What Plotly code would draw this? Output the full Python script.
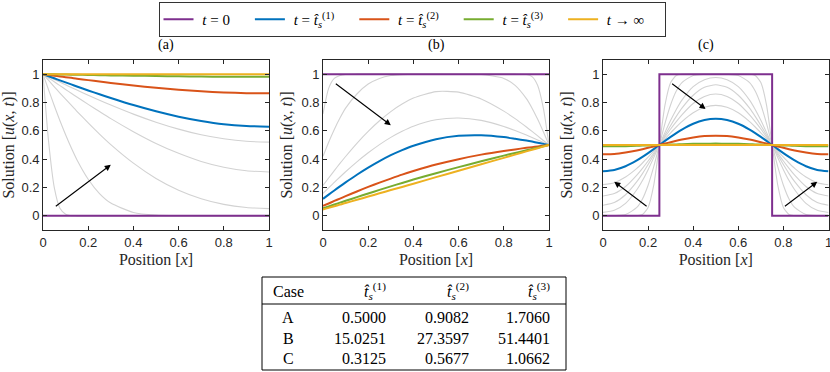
import plotly.graph_objects as go

# ---------------- data ----------------
# Panel (a)
xa = [0, 0.025, 0.05, 0.075, 0.1, 0.125, 0.15, 0.2, 0.25, 0.3, 0.4, 0.5, 0.6, 0.7, 0.8, 0.9, 1.0]
a_grey1 = [1, 0.521, 0.199, 0.053, 0.011, 0.001, 0, 0, 0, 0, 0, 0, 0, 0, 0, 0, 0]
a_grey2 = [1, 0.888, 0.777, 0.671, 0.572, 0.480, 0.396, 0.258, 0.157, 0.090, 0.024, 0.005, 0.001, 0, 0, 0, 0]
a_grey3 = [1, 0.956, 0.911, 0.867, 0.824, 0.781, 0.738, 0.656, 0.577, 0.503, 0.372, 0.264, 0.181, 0.121, 0.081, 0.059, 0.051]
a_grey4 = [1, 0.973, 0.946, 0.919, 0.892, 0.865, 0.839, 0.787, 0.736, 0.686, 0.594, 0.511, 0.441, 0.384, 0.343, 0.318, 0.309]
a_grey5 = [1, 0.981, 0.962, 0.944, 0.925, 0.906, 0.888, 0.852, 0.816, 0.782, 0.718, 0.661, 0.612, 0.572, 0.544, 0.526, 0.520]
a_t0 = [0, 0, 0, 0, 0, 0, 0, 0, 0, 0, 0, 0, 0, 0, 0, 0, 0]
a_t1 = [1, 0.985, 0.971, 0.956, 0.942, 0.928, 0.913, 0.885, 0.858, 0.832, 0.782, 0.738, 0.700, 0.670, 0.647, 0.634, 0.629]
a_t2 = [1, 0.995, 0.989, 0.984, 0.979, 0.974, 0.968, 0.958, 0.948, 0.938, 0.920, 0.904, 0.890, 0.879, 0.871, 0.866, 0.865]
a_t3 = [1, 0.999, 0.999, 0.998, 0.997, 0.996, 0.996, 0.994, 0.993, 0.991, 0.989, 0.987, 0.985, 0.983, 0.982, 0.981, 0.981]
a_inf = [1, 1, 1, 1, 1, 1, 1, 1, 1, 1, 1, 1, 1, 1, 1, 1, 1]

# Panel (b)
xb = [0, 0.025, 0.05, 0.075, 0.1, 0.15, 0.2, 0.25, 0.3, 0.35, 0.4, 0.5, 0.6, 0.7, 0.8, 0.85, 0.9, 0.925, 0.95, 0.975, 1.0]
b_grey1 = [0.72, 0.90, 0.97, 0.99, 0.998, 1, 1, 1, 1, 1, 1, 1, 1, 1, 1, 1, 0.998, 0.983, 0.92, 0.76, 0.5]
b_grey2 = [0.42, 0.52, 0.61, 0.69, 0.76, 0.86, 0.93, 0.97, 0.99, 0.997, 1, 1, 0.999, 0.998, 0.97, 0.921, 0.827, 0.76, 0.681, 0.593, 0.5]
b_grey3 = [0.214, 0.267, 0.319, 0.370, 0.419, 0.512, 0.596, 0.671, 0.736, 0.789, 0.831, 0.877, 0.873, 0.825, 0.739, 0.686, 0.627, 0.596, 0.564, 0.532, 0.5]
b_grey4 = [0.158, 0.198, 0.236, 0.274, 0.311, 0.381, 0.445, 0.503, 0.554, 0.597, 0.633, 0.678, 0.691, 0.674, 0.631, 0.602, 0.570, 0.553, 0.536, 0.518, 0.5]
b_t0 = [1, 1, 1, 1, 1, 1, 1, 1, 1, 1, 1, 1, 1, 1, 1, 1, 1, 1, 1, 1, 1]
b_t1 = [0.120, 0.150, 0.179, 0.208, 0.236, 0.290, 0.340, 0.386, 0.428, 0.464, 0.495, 0.541, 0.565, 0.569, 0.556, 0.544, 0.531, 0.524, 0.516, 0.508, 0.5]
b_t2 = [0.070, 0.087, 0.105, 0.122, 0.139, 0.172, 0.204, 0.234, 0.263, 0.291, 0.316, 0.362, 0.400, 0.432, 0.458, 0.469, 0.480, 0.485, 0.490, 0.495, 0.5]
b_t3 = [0.053, 0.066, 0.080, 0.093, 0.106, 0.132, 0.158, 0.183, 0.208, 0.232, 0.256, 0.301, 0.344, 0.385, 0.425, 0.444, 0.463, 0.472, 0.481, 0.491, 0.5]
b_inf = [0.045, 0.056, 0.068, 0.079, 0.091, 0.113, 0.136, 0.159, 0.182, 0.204, 0.227, 0.273, 0.318, 0.364, 0.409, 0.432, 0.455, 0.466, 0.477, 0.489, 0.5]

# Panel (c)
xc = [0, 0.05, 0.1, 0.15, 0.175, 0.2, 0.225, 0.25, 0.275, 0.3, 0.325, 0.35, 0.4, 0.45, 0.5,
      0.55, 0.6, 0.65, 0.675, 0.7, 0.725, 0.75, 0.775, 0.8, 0.825, 0.85, 0.9, 0.95, 1.0]
c_grey1 = [0, 0, 0, 0.001, 0.009, 0.059, 0.216, 0.5, 0.784, 0.941, 0.991, 0.999, 1, 1, 1,
           1, 1, 0.999, 0.991, 0.941, 0.784, 0.5, 0.216, 0.059, 0.009, 0.001, 0, 0, 0]
c_grey2 = [0, 0.001, 0.009, 0.059, 0.119, 0.216, 0.347, 0.5, 0.653, 0.784, 0.881, 0.941, 0.991, 0.999, 1,
           0.999, 0.991, 0.941, 0.881, 0.784, 0.653, 0.5, 0.347, 0.216, 0.119, 0.059, 0.009, 0.001, 0]
c_grey3 = [0.024, 0.039, 0.088, 0.184, 0.249, 0.326, 0.411, 0.5, 0.589, 0.674, 0.751, 0.817, 0.912, 0.961, 0.976,
           0.961, 0.912, 0.817, 0.751, 0.674, 0.589, 0.5, 0.411, 0.326, 0.249, 0.184, 0.088, 0.039, 0.024]
c_grey4 = [0.075, 0.094, 0.149, 0.241, 0.298, 0.362, 0.430, 0.5, 0.570, 0.638, 0.702, 0.760, 0.851, 0.907, 0.925,
           0.907, 0.851, 0.760, 0.702, 0.638, 0.570, 0.5, 0.430, 0.362, 0.298, 0.241, 0.149, 0.094, 0.075]
c_grey5 = [0.140, 0.157, 0.207, 0.287, 0.335, 0.387, 0.443, 0.5, 0.557, 0.613, 0.665, 0.713, 0.793, 0.843, 0.860,
           0.843, 0.793, 0.713, 0.665, 0.613, 0.557, 0.5, 0.443, 0.387, 0.335, 0.287, 0.207, 0.157, 0.140]
c_grey6 = [0.220, 0.234, 0.274, 0.335, 0.373, 0.414, 0.456, 0.5, 0.544, 0.586, 0.627, 0.665, 0.727, 0.766, 0.780,
           0.766, 0.727, 0.665, 0.627, 0.586, 0.544, 0.5, 0.456, 0.414, 0.373, 0.335, 0.274, 0.234, 0.220]
c_t0_x = [0, 0.25, 0.25, 0.75, 0.75, 1.0]
c_t0_y = [0, 0, 1, 1, 0, 0]
c_t1 = [0.315, 0.324, 0.350, 0.391, 0.416, 0.443, 0.471, 0.5, 0.529, 0.557, 0.584, 0.609, 0.650, 0.676, 0.685,
        0.676, 0.650, 0.609, 0.584, 0.557, 0.529, 0.5, 0.471, 0.443, 0.416, 0.391, 0.350, 0.324, 0.315]
c_t2 = [0.434, 0.437, 0.447, 0.461, 0.470, 0.480, 0.490, 0.5, 0.510, 0.520, 0.530, 0.539, 0.553, 0.563, 0.566,
        0.563, 0.553, 0.539, 0.530, 0.520, 0.510, 0.5, 0.490, 0.480, 0.470, 0.461, 0.447, 0.437, 0.434]
c_t3 = [0.491, 0.491, 0.492, 0.494, 0.496, 0.497, 0.499, 0.5, 0.501, 0.503, 0.504, 0.506, 0.508, 0.509, 0.510,
        0.509, 0.508, 0.506, 0.504, 0.503, 0.501, 0.5, 0.499, 0.497, 0.496, 0.494, 0.492, 0.491, 0.491]
c_inf = [0.5, 0.5, 0.5, 0.5, 0.5, 0.5, 0.5, 0.5, 0.5, 0.5, 0.5, 0.5, 0.5, 0.5, 0.5,
         0.5, 0.5, 0.5, 0.5, 0.5, 0.5, 0.5, 0.5, 0.5, 0.5, 0.5, 0.5, 0.5, 0.5]

# arrows (data coordinates: tail x, tail y, head x, head y)
arrows_a = [(0.05, 0.06, 0.30, 0.36)]
arrows_b = [(0.05, 0.94, 0.30, 0.64)]
arrows_c = [(0.30, 0.94, 0.455, 0.755), (0.20, 0.06, 0.05, 0.24), (0.80, 0.06, 0.95, 0.24)]

# table
TS = ["<i>t\u0302</i><sub><i>s</i></sub><sup>(1)</sup>",
      "<i>t\u0302</i><sub><i>s</i></sub><sup>(2)</sup>",
      "<i>t\u0302</i><sub><i>s</i></sub><sup>(3)</sup>"]
table_header = ["Case", TS[0], TS[1], TS[2]]
table_cases = ["A", "B", "C"]
table_ts1 = [0.5000, 15.0251, 0.3125]
table_ts2 = [0.9082, 27.3597, 0.5677]
table_ts3 = [1.7060, 51.4401, 1.0662]

tick_vals = [0, 0.2, 0.4, 0.6, 0.8, 1]
tick_text = ["0", "0.2", "0.4", "0.6", "0.8", "1"]
panel_titles = ["(a)", "(b)", "(c)"]

legend_names = ["<i>t</i> = 0",
                "<i>t</i> = " + TS[0],
                "<i>t</i> = " + TS[1],
                "<i>t</i> = " + TS[2],
                "<i>t</i> \u2192 \u221e"]

# ---------------- style ----------------
W, H = 830, 372
C_T0, C_T1, C_T2, C_T3, C_INF = "#7E2F8E", "#0072BD", "#D95319", "#77AC30", "#EDB120"
GREY = "#D2D2D2"
SERIF = "Liberation Serif"
SANS = "Liberation Sans"
AXC = "#262626"
NB = "\u00a0"

dom_x = [(43 / W, 269 / W), (323 / W, 549 / W), (603 / W, 828.5 / W)]
dom_y = (1 - 230 / H, 1 - 60 / H)

fig = go.Figure()

panels = [
    ("x", "y", xa, [a_grey1, a_grey2, a_grey3, a_grey4, a_grey5], (xa, a_t0), a_t1, a_t2, a_t3, a_inf),
    ("x2", "y2", xb, [b_grey1, b_grey2, b_grey3, b_grey4], (xb, b_t0), b_t1, b_t2, b_t3, b_inf),
    ("x3", "y3", xc, [c_grey1, c_grey2, c_grey3, c_grey4, c_grey5, c_grey6], (c_t0_x, c_t0_y), c_t1, c_t2, c_t3, c_inf),
]

for pi, (xr, yr, xs, greys, t0, t1, t2, t3, tinf) in enumerate(panels):
    for g in greys:
        fig.add_trace(go.Scatter(x=xs, y=g, xaxis=xr, yaxis=yr, mode="lines",
                                 line=dict(color=GREY, width=1.1, shape="spline", smoothing=0.6),
                                 showlegend=False, hoverinfo="skip"))
    series = [(t0[0], t0[1], C_T0, "linear"), (xs, t1, C_T1, "spline"), (xs, t2, C_T2, "spline"),
              (xs, t3, C_T3, "spline"), (xs, tinf, C_INF, "spline")]
    for si, (sx, sy, col, shp) in enumerate(series):
        fig.add_trace(go.Scatter(x=sx, y=sy, xaxis=xr, yaxis=yr, mode="lines",
                                 line=dict(color=col, width=2, shape=shp, smoothing=0.6),
                                 name=NB + legend_names[si] + NB * 4, legendgroup=str(si),
                                 showlegend=(pi == 0)))

axis_common = dict(showline=True, linecolor=AXC, linewidth=0.8, mirror="ticks",
                   ticks="inside", ticklen=4, tickwidth=0.8, tickcolor=AXC,
                   showgrid=False, zeroline=False,
                   tickvals=tick_vals, ticktext=tick_text,
                   tickfont=dict(family=SANS, size=13, color=AXC))

layout = dict(width=W, height=H, margin=dict(l=0, r=0, t=0, b=0, autoexpand=False),
              paper_bgcolor="white", plot_bgcolor="white", autosize=False)

for i in range(3):
    sfx = "" if i == 0 else str(i + 1)
    layout["xaxis" + sfx] = dict(axis_common, domain=list(dom_x[i]), range=[0, 1],
                                 anchor="y" + sfx, automargin=False, ticklabeloverflow="allow",
                                 title=dict(text="Position [<i>x</i>]", standoff=5,
                                            font=dict(family=SERIF, size=16, color=AXC)))
    layout["yaxis" + sfx] = dict(axis_common, domain=list(dom_y), range=[-0.1, 1.1],
                                 anchor="x" + sfx, automargin=False,
                                 title=dict(text="Solution [<i>u</i>(<i>x</i>, <i>t</i>)]", standoff=4,
                                            font=dict(family=SERIF, size=16, color=AXC)))

fig.update_layout(**layout)

# panel titles
for i, t in enumerate(panel_titles):
    fig.add_annotation(text=t, x=(dom_x[i][0] + dom_x[i][1]) / 2, y=1 - 45 / H,
                       xref="paper", yref="paper", showarrow=False, yanchor="middle",
                       font=dict(family=SERIF, size=14, color="black"))

# arrows
for (xr, yr, arrs) in [("x", "y", arrows_a), ("x2", "y2", arrows_b), ("x3", "y3", arrows_c)]:
    for (tx, ty, hx, hy) in arrs:
        fig.add_annotation(x=hx, y=hy, ax=tx, ay=ty, xref=xr, yref=yr, axref=xr, ayref=yr,
                           text="", showarrow=True, arrowhead=2, arrowsize=1.1,
                           arrowwidth=1.1, arrowcolor="black")

# legend
fig.update_layout(legend=dict(orientation="h", x=412 / W, xanchor="center", y=1 - 2 / H, yanchor="top",
                              bordercolor="#333333", borderwidth=1, bgcolor="white",
                              font=dict(family=SERIF, size=15, color="black"),
                              itemwidth=30, tracegroupgap=0))

# table (drawn as text cells with booktabs-like rules)
t_left, t_right = 262, 566
t_top_px, t_hdr_px, t_bot_px = 277, 304, 370
row_y_px = [317, 338, 358]
hdr_y_px = 291
col_anchor_px = [288, 388, 471, 552]
col_align = ["center", "right", "right", "right"]
columns = [table_cases,
           [f"{v:.4f}" for v in table_ts1],
           [f"{v:.4f}" for v in table_ts2],
           [f"{v:.4f}" for v in table_ts3]]
for ci in range(4):
    fig.add_annotation(text=table_header[ci], x=col_anchor_px[ci] / W, y=1 - hdr_y_px / H,
                       xref="paper", yref="paper", showarrow=False,
                       xanchor=col_align[ci], yanchor="middle",
                       font=dict(family=SERIF, size=16, color="black"))
    for ri, val in enumerate(columns[ci]):
        fig.add_annotation(text=val, x=col_anchor_px[ci] / W, y=1 - row_y_px[ri] / H,
                           xref="paper", yref="paper", showarrow=False,
                           xanchor=col_align[ci], yanchor="middle",
                           font=dict(family=SERIF, size=16, color="black"))

fig.add_shape(type="rect", xref="paper", yref="paper", x0=t_left / W, x1=t_right / W,
              y0=1 - t_bot_px / H, y1=1 - t_top_px / H, line=dict(color="black", width=1))
fig.add_shape(type="line", xref="paper", yref="paper", x0=t_left / W, x1=t_right / W,
              y0=1 - t_hdr_px / H, y1=1 - t_hdr_px / H, line=dict(color="black", width=1))

fig.write_html("out.html", config={"displayModeBar": False},
               post_script="document.body.style.margin='0px';document.body.style.overflow='hidden';")
